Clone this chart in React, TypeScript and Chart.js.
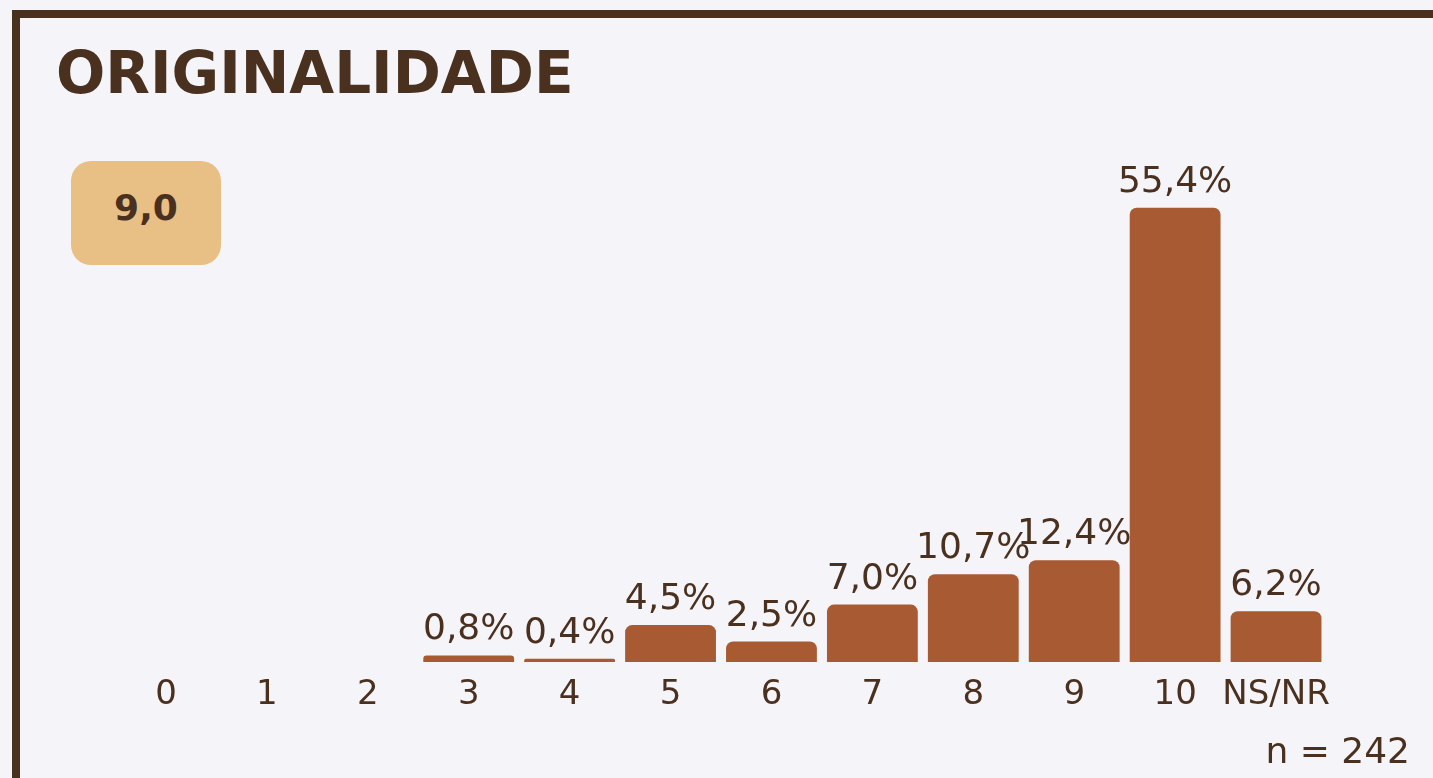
import React, { useEffect, useRef } from "react";
import { Chart, registerables } from "chart.js";

Chart.register(...registerables);

const categories = ["0", "1", "2", "3", "4", "5", "6", "7", "8", "9", "10", "NS/NR"];
const percentages = [0, 0, 0, 0.8, 0.4, 4.5, 2.5, 7.0, 10.7, 12.4, 55.4, 6.2];
const titleText = "ORIGINALIDADE";
const averageText = "9,0";
const sampleText = "n = 242";

const BAR = "#a85a32";
const INK = "#4a301f";
const BG = "#f5f5f9";
const FONT = "'DejaVu Sans', sans-serif";

const valueLabels = {
  id: "valueLabels",
  afterDatasetsDraw(chart: any) {
    const ctx = chart.ctx;
    const meta = chart.getDatasetMeta(0);
    ctx.save();
    ctx.font = `36px ${FONT}`;
    ctx.fillStyle = INK;
    ctx.textAlign = "center";
    ctx.textBaseline = "alphabetic";
    meta.data.forEach((bar: any, i: number) => {
      const v = percentages[i];
      if (v > 0) {
        ctx.fillText(v.toFixed(1).replace(".", ",") + "%", bar.x, bar.y - 16);
      }
    });
    ctx.restore();
  },
};

export default function App() {
  const ref = useRef<HTMLCanvasElement>(null);

  useEffect(() => {
    const chart = new Chart(ref.current!, {
      type: "bar",
      data: {
        labels: categories,
        datasets: [
          {
            data: percentages,
            backgroundColor: BAR,
            borderRadius: 7,
            borderSkipped: "bottom",
            barPercentage: 0.9,
            categoryPercentage: 1.0,
          },
        ],
      },
      options: {
        responsive: false,
        animation: false,
        devicePixelRatio: 1,
        layout: { padding: { left: 115.5, right: 106.5, top: 170, bottom: 49.2 } },
        plugins: { legend: { display: false }, tooltip: { enabled: false } },
        scales: {
          x: {
            grid: { display: false, drawTicks: false },
            border: { display: false },
            ticks: { color: INK, font: { family: FONT, size: 34 }, padding: 13, maxRotation: 0, autoSkip: false },
          },
          y: { display: false, min: 0, max: 60 },
        },
      },
      plugins: [valueLabels],
    });
    return () => chart.destroy();
  }, []);

  return (
    <div style={{ position: "fixed", left: 0, top: 0, width: 1433, height: 778, overflow: "hidden", background: BG }}>
      <div
        style={{
          position: "absolute",
          left: 12,
          top: 10,
          width: 1500,
          height: 900,
          border: `8px solid ${INK}`,
          boxSizing: "border-box",
        }}
      />
      <canvas ref={ref} width={1433} height={778} style={{ position: "absolute", left: 0, top: 0, width: 1433, height: 778 }} />
      <div
        style={{
          position: "absolute",
          left: 56,
          top: 44,
          fontFamily: FONT,
          fontWeight: "bold",
          fontSize: 58,
          lineHeight: 1,
          color: INK,
          whiteSpace: "nowrap",
        }}
      >
        {titleText}
      </div>
      <div
        style={{
          position: "absolute",
          left: 71,
          top: 161,
          width: 150,
          height: 104,
          borderRadius: 20,
          background: "#e8bf85",
          display: "flex",
          alignItems: "center",
          justifyContent: "center",
          boxSizing: "border-box",
          paddingBottom: 10,
          fontFamily: FONT,
          fontWeight: "bold",
          fontSize: 36,
          lineHeight: 1,
          color: INK,
        }}
      >
        {averageText}
      </div>
      <div
        style={{
          position: "absolute",
          right: 23,
          top: 733,
          fontFamily: FONT,
          fontSize: 36,
          lineHeight: 1,
          color: INK,
          whiteSpace: "nowrap",
        }}
      >
        {sampleText}
      </div>
    </div>
  );
}
